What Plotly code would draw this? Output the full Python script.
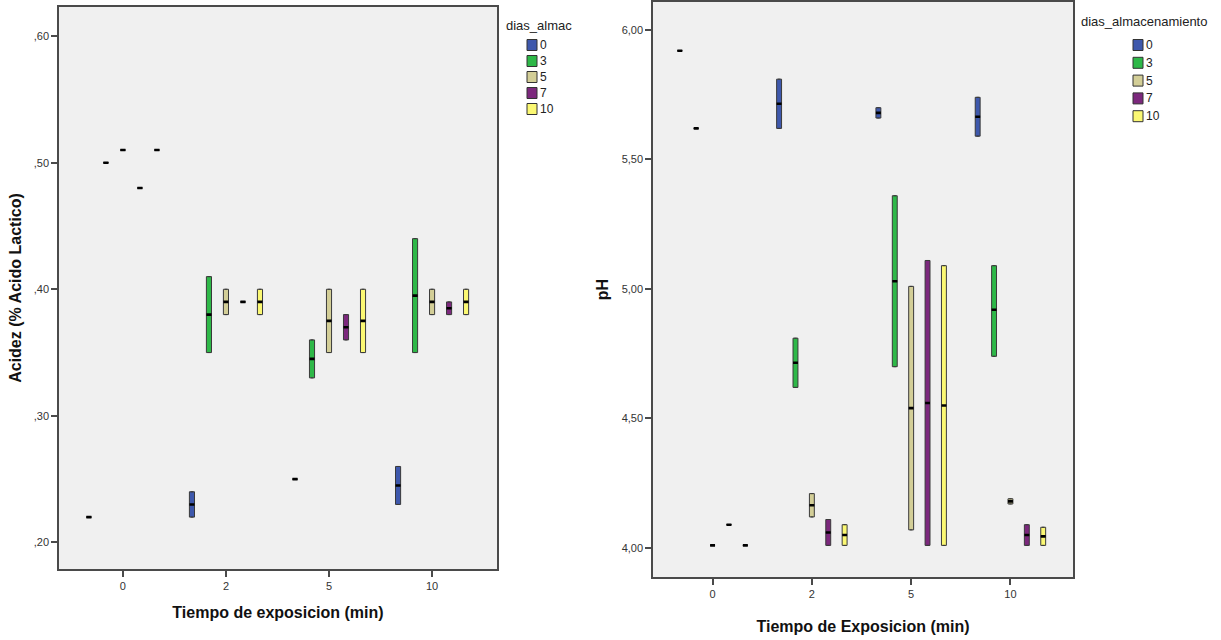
import plotly.graph_objects as go

# ---------------- data ----------------
tiempos = ["0", "2", "5", "10"]
dias = ["0", "3", "5", "7", "10"]
colores = ["#3E58AC", "#2EB848", "#D3CE97", "#7C287D", "#FBF873"]

acidez_ticks = [0.20, 0.30, 0.40, 0.50, 0.60]
acidez_ticktext = [",20", ",30", ",40", ",50", ",60"]
ph_ticks = [4.0, 4.5, 5.0, 5.5, 6.0]
ph_ticktext = ["4,00", "4,50", "5,00", "5,50", "6,00"]

# rows: dias 0,3,5,7,10 ; cols: tiempo 0,2,5,10
acidez_low = [
    [0.22, 0.22, 0.25, 0.23],
    [0.50, 0.35, 0.33, 0.35],
    [0.51, 0.38, 0.35, 0.38],
    [0.48, 0.39, 0.36, 0.38],
    [0.51, 0.38, 0.35, 0.38],
]
acidez_med = [
    [0.22, 0.23, 0.25, 0.245],
    [0.50, 0.38, 0.345, 0.395],
    [0.51, 0.39, 0.375, 0.39],
    [0.48, 0.39, 0.37, 0.385],
    [0.51, 0.39, 0.375, 0.39],
]
acidez_high = [
    [0.22, 0.24, 0.25, 0.26],
    [0.50, 0.41, 0.36, 0.44],
    [0.51, 0.40, 0.40, 0.40],
    [0.48, 0.39, 0.38, 0.39],
    [0.51, 0.40, 0.40, 0.40],
]

ph_low = [
    [5.92, 5.62, 5.66, 5.59],
    [5.62, 4.62, 4.70, 4.74],
    [4.01, 4.12, 4.07, 4.17],
    [4.09, 4.01, 4.01, 4.01],
    [4.01, 4.01, 4.01, 4.01],
]
ph_med = [
    [5.92, 5.715, 5.68, 5.665],
    [5.62, 4.715, 5.03, 4.92],
    [4.01, 4.165, 4.54, 4.18],
    [4.09, 4.06, 4.56, 4.05],
    [4.01, 4.05, 4.55, 4.045],
]
ph_high = [
    [5.92, 5.81, 5.70, 5.74],
    [5.62, 4.81, 5.36, 5.09],
    [4.01, 4.21, 5.01, 4.19],
    [4.09, 4.11, 5.11, 4.09],
    [4.01, 4.09, 5.09, 4.08],
]

W, H = 1221, 640
FONT = "Liberation Sans, Arial, sans-serif"

fig = go.Figure()


def add_boxes(low, med, high, xa, ya):
    for i, d in enumerate(dias):
        fig.add_trace(go.Box(
            x=tiempos, q1=low[i], median=med[i], q3=high[i],
            lowerfence=low[i], upperfence=high[i],
            fillcolor=colores[i], line=dict(color="#3a3a3a", width=1),
            offsetgroup=d, alignmentgroup="g" + xa, name=d,
            xaxis=xa, yaxis=ya, showlegend=False, hoverinfo="skip",
        ))
        # thick black median line (SPSS style)
        fig.add_trace(go.Box(
            x=tiempos, q1=med[i], median=med[i], q3=med[i],
            lowerfence=med[i], upperfence=med[i],
            fillcolor="rgba(0,0,0,0)", line=dict(color="black", width=2.6),
            offsetgroup=d, alignmentgroup="g" + xa, name=d,
            xaxis=xa, yaxis=ya, showlegend=False, hoverinfo="skip",
        ))


add_boxes(acidez_low, acidez_med, acidez_high, "x", "y")
add_boxes(ph_low, ph_med, ph_high, "x2", "y2")

axis_common = dict(
    showline=True, mirror=True, linecolor="#4a4a4a", linewidth=1.5,
    ticks="outside", ticklen=6, tickwidth=1.5, tickcolor="#4a4a4a",
    tickfont=dict(family=FONT, size=11, color="#333333"),
    showgrid=False, zeroline=False,
)
title_font = dict(family=FONT, size=16, color="#111")

fig.update_layout(
    width=W, height=H,
    margin=dict(l=0, r=0, t=0, b=0),
    paper_bgcolor="white", plot_bgcolor="#F0F0F0",
    boxmode="group", boxgap=0.175, boxgroupgap=0.7,
    showlegend=False,
    font=dict(family=FONT, color="#222"),
    xaxis=dict(
        domain=[59 / W, 497 / W], anchor="y", type="category",
        categoryorder="array", categoryarray=tiempos, range=[-0.62, 3.63],
        title=dict(text="<b>Tiempo de exposicion (min)</b>",
                   font=title_font, standoff=16),
        **axis_common,
    ),
    yaxis=dict(
        domain=[1 - 569 / H, 1 - 7 / H], anchor="x", range=[0.179, 0.623],
        tickvals=acidez_ticks, ticktext=acidez_ticktext,
        title=dict(text="<b>Acidez (% Acido Lactico)</b>",
                   font=title_font, standoff=8),
        **axis_common,
    ),
    xaxis2=dict(
        domain=[653 / W, 1073 / W], anchor="y2", type="category",
        categoryorder="array", categoryarray=tiempos, range=[-0.60, 3.63],
        title=dict(text="<b>Tiempo de Exposicion (min)</b>",
                   font=title_font, standoff=22),
        **axis_common,
    ),
    yaxis2=dict(
        domain=[1 - 577 / H, 1 - 2 / H], anchor="x2", range=[3.888, 6.108],
        tickvals=ph_ticks, ticktext=ph_ticktext,
        title=dict(text="<b>pH</b>", font=title_font, standoff=9),
        **axis_common,
    ),
)

# ---------------- legends (SPSS style) ----------------
def add_legend(title, tx, ty, sx, y0, step, sw, sh):
    fig.add_annotation(
        x=tx / W, y=1 - ty / H, xref="paper", yref="paper",
        text=title, showarrow=False, xanchor="left", yanchor="middle",
        font=dict(family=FONT, size=13, color="#222"),
    )
    for i, d in enumerate(dias):
        yc = y0 + step * i
        fig.add_shape(
            type="rect", xref="paper", yref="paper",
            x0=sx / W, x1=(sx + sw) / W,
            y0=1 - (yc - sh / 2) / H, y1=1 - (yc + sh / 2) / H,
            fillcolor=colores[i], line=dict(color="#333", width=1),
        )
        fig.add_annotation(
            x=(sx + sw + 1) / W, y=1 - yc / H, xref="paper", yref="paper",
            text=d, showarrow=False, xanchor="left", yanchor="middle",
            font=dict(family=FONT, size=12, color="#222"),
        )


add_legend("dias_almac", 504, 25, 527, 45, 16, 10, 11)
add_legend("dias_almacenamiento", 1079, 21, 1133, 45, 17.8, 10, 11)

fig.write_html(
    "out.html",
    config={"displayModeBar": False},
    post_script="document.body.style.margin='0';document.body.style.overflow='hidden';",
)
